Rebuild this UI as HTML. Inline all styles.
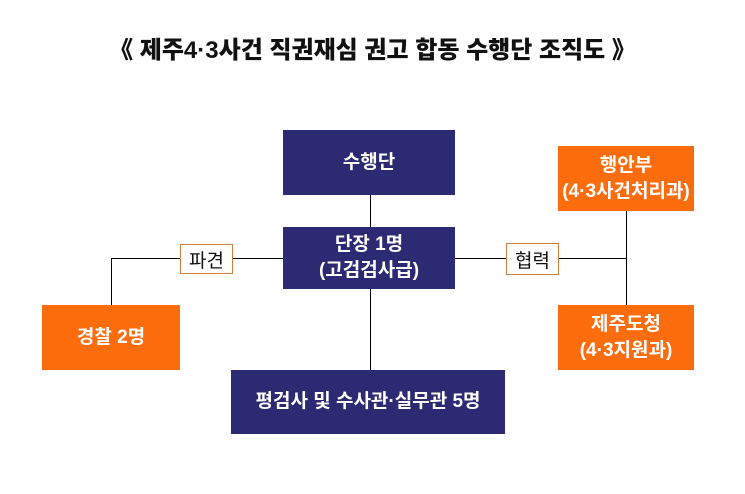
<!DOCTYPE html>
<html><head><meta charset="utf-8"><style>
body{margin:0;width:745px;height:494px;background:#fff;position:relative;overflow:hidden;font-family:"Liberation Sans","Noto Sans CJK KR",sans-serif}
.b{position:absolute;display:flex;align-items:center;justify-content:center;text-align:center;color:#fff;font-weight:bold;font-size:19px;line-height:26px}
.n{background:#2b2a72}.o{background:#fd6c0d}
.l{position:absolute;background:#000}
.t{position:absolute;background:#fff;border:1px solid #d0803c;font-size:19px;display:flex;align-items:center;justify-content:center;color:#111}
</style></head><body>
<div style="position:absolute;top:30px;left:0;width:745px;text-align:center;font-weight:900;font-size:24px;color:#111">《 제주4·3사건 직권재심 권고 합동 수행단 조직도 》</div>
<div class="l" style="left:370px;top:195px;width:1px;height:175px"></div>
<div class="l" style="left:111px;top:258px;width:516px;height:1px"></div>
<div class="l" style="left:111px;top:258px;width:1px;height:47px"></div>
<div class="l" style="left:626px;top:211px;width:1px;height:94px"></div>
<div class="b n" style="left:283px;top:130px;width:172px;height:65px">수행단</div>
<div class="b n" style="left:283px;top:227px;width:172px;height:62px">단장 1명<br>(고검검사급)</div>
<div class="b n" style="left:231px;top:370px;width:274px;height:64px">평검사 및 수사관·실무관 5명</div>
<div class="b o" style="left:42px;top:305px;width:138px;height:65px">경찰 2명</div>
<div class="b o" style="left:558px;top:146px;width:136px;height:65px">행안부<br>(4·3사건처리과)</div>
<div class="b o" style="left:558px;top:305px;width:136px;height:65px">제주도청<br>(4·3지원과)</div>
<div class="t" style="left:180px;top:244px;width:51px;height:28px">파견</div>
<div class="t" style="left:506px;top:243px;width:51px;height:30px">협력</div>
</body></html>
